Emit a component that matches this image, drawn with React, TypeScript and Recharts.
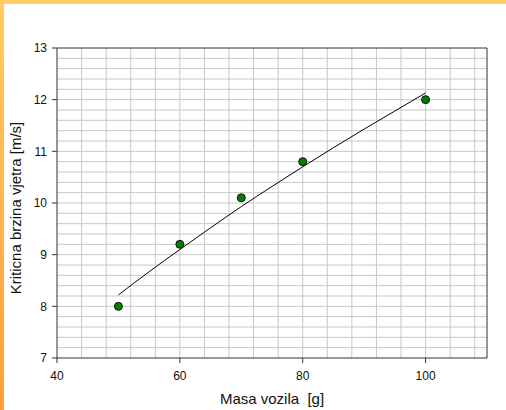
import React from "react";
import {
  ComposedChart,
  Line,
  Scatter,
  XAxis,
  YAxis,
  ReferenceLine,
} from "recharts";

// measured points
const masses = [50, 60, 70, 80, 100];
const speeds = [8.0, 9.2, 10.1, 10.8, 12.0];

// trend curve
const fitMasses = [50, 55, 60, 65, 70, 75, 80, 85, 90, 95, 100];
const fitSpeeds = [8.22, 8.67, 9.1, 9.52, 9.93, 10.32, 10.7, 11.07, 11.43, 11.78, 12.13];

const xTicks = [40, 60, 80, 100];
const yTicks = [7, 8, 9, 10, 11, 12, 13];

const gridX = [44, 48, 52, 56, 60, 64, 68, 72, 76, 80, 84, 88, 92, 96, 100, 104, 108];
const gridY = [
  7.2, 7.4, 7.6, 7.8, 8, 8.2, 8.4, 8.6, 8.8, 9, 9.2, 9.4, 9.6, 9.8, 10,
  10.2, 10.4, 10.6, 10.8, 11, 11.2, 11.4, 11.6, 11.8, 12, 12.2, 12.4, 12.6, 12.8,
];

const points = masses.map((m, i) => ({ x: m, y: speeds[i] }));
const fit = fitMasses.map((m, i) => ({ x: m, y: fitSpeeds[i] }));

const font = "'Liberation Sans', Arial, sans-serif";
const gridColor = "#c8c8c8";
const axisColor = "#333";

const Dot = (props: any) => (
  <circle cx={props.cx} cy={props.cy} r={4} fill="#008000" stroke="#111" strokeWidth={1} />
);

export default function App() {
  return (
    <div style={{ position: "relative", width: 506, height: 410, background: "#fff", fontFamily: font }}>
      <style>{`body{margin:0}`}</style>
      <div style={{ position: "absolute", left: 0, top: 0, width: 506, height: 4, background: "#ffcc66" }} />
      <div
        style={{
          position: "absolute",
          left: 0,
          top: 0,
          width: 4,
          height: 410,
          background: "linear-gradient(#ffcc66, #ff9f3a)",
        }}
      />
      <div style={{ position: "absolute", left: 0, top: 0 }}>
        <ComposedChart
          width={506}
          height={410}
          margin={{ top: 48, right: 19, bottom: 0, left: 0 }}
        >
          <XAxis
            dataKey="x"
            type="number"
            domain={[40, 110]}
            ticks={xTicks}
            allowDataOverflow
            height={52}
            tickSize={5}
            tickMargin={8}
            stroke={axisColor}
            tick={{ fill: "#111", fontSize: 12, fontFamily: font }}
            label={{
              content: () => (
                <text
                  x={272}
                  y={404}
                  textAnchor="middle"
                  fontSize={15}
                  fontFamily={font}
                  fill="#111"
                  style={{ whiteSpace: "pre" }}
                >
                  {"Masa vozila  [g]"}
                </text>
              ),
            }}
          />
          <YAxis
            dataKey="y"
            type="number"
            domain={[7, 13]}
            ticks={yTicks}
            allowDataOverflow
            width={57}
            tickSize={5}
            tickMargin={5}
            stroke={axisColor}
            tick={{ fill: "#111", fontSize: 12, fontFamily: font }}
            label={{
              content: () => (
                <text
                  x={21}
                  y={208}
                  transform="rotate(-90,21,208)"
                  textAnchor="middle"
                  fontSize={15}
                  fontFamily={font}
                  fill="#111"
                >
                  Kriticna brzina vjetra [m/s]
                </text>
              ),
            }}
          />
          {gridX.map((v) => (
            <ReferenceLine key={"gx" + v} x={v} stroke={gridColor} strokeWidth={1} />
          ))}
          {gridY.map((v) => (
            <ReferenceLine key={"gy" + v} y={v} stroke={gridColor} strokeWidth={1} />
          ))}
          <ReferenceLine y={13} stroke={axisColor} strokeWidth={1} />
          <ReferenceLine x={110} stroke={axisColor} strokeWidth={1} />
          <Line
            data={fit}
            dataKey="y"
            type="monotone"
            stroke="#000"
            strokeWidth={1}
            dot={false}
            activeDot={false}
            isAnimationActive={false}
          />
          <Scatter data={points} dataKey="y" shape={Dot} isAnimationActive={false} />
        </ComposedChart>
      </div>
    </div>
  );
}
